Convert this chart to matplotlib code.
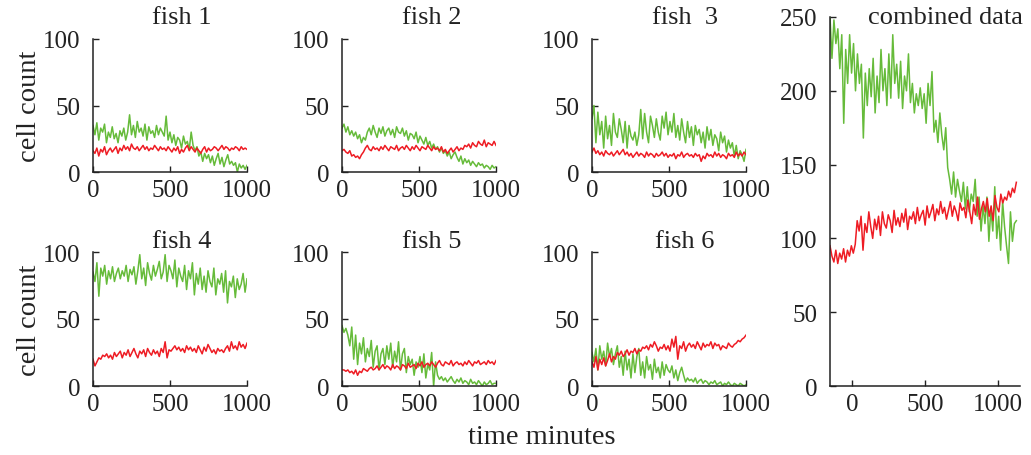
import numpy as np
import matplotlib
matplotlib.use("Agg")
import matplotlib.pyplot as plt

plt.rcParams['font.family'] = ['Liberation Serif', 'DejaVu Serif']

titles = ["fish 1", "fish 2", "fish  3", "fish 4", "fish 5", "fish 6"]

green = {
    "fish 1": [35,28,37,24,33,30,36,22,30,26,34,25,29,22,31,27,33,
               24,30,43,28,35,26,38,30,
               33,27,36,24,34,29,31,26,35,28,33,30,
               27,42,24,30,
               22,28,20,26,24,18,27,21,23,17,30,20,
               16,19,12,15,8,14,10,13,
               7,12,5,10,14,6,11,4,9,13,6,8,
               5,7,0,6,3,5,2,5],
    "fish 2": [33,36,30,34,28,31,27,30,25,28,22,26,24,30,33,28,35,
               30,26,33,29,34,27,31,
               33,28,32,26,34,30,29,33,27,31,24,29,
               28,25,30,22,
               27,24,21,26,20,23,18,21,17,19,15,18,
               14,16,12,15,10,13,15,11,
               8,12,6,10,7,9,5,8,6,4,7,5,
               6,3,5,4,2,5,3,4],
    "fish  3": [40,50,22,45,28,38,18,42,25,35,20,44,30,26,40,32,22,
                38,18,35,27,24,30,20,
                28,47,25,44,30,22,42,35,26,40,30,24,
                42,33,45,28,
                38,30,44,26,35,24,40,30,22,38,26,34,
                20,35,28,32,22,30,18,34,
                24,32,20,28,25,16,30,22,27,15,24,18,
                22,12,20,10,16,13,8,17],
    "fish 4": [85,78,92,67,88,82,90,76,86,80,89,78,84,88,80,86,82,
               90,78,87,83,89,76,86,
               98,80,88,75,92,84,79,90,82,87,93,80,
               85,98,78,90,
               86,80,94,74,88,82,78,90,72,86,80,92,
               68,84,76,88,72,82,70,86,
               78,74,88,68,80,76,84,70,86,62,78,74,
               82,66,80,72,76,84,70,80],
    "fish 5": [45,40,43,38,30,44,20,38,16,32,24,36,18,28,22,34,14,
               26,30,12,24,28,16,30,
               20,32,14,26,18,33,12,24,28,10,22,16,
               20,8,18,14,
               22,10,24,6,16,12,25,0,18,8,5,7,
               4,6,3,5,7,4,2,5,
               3,6,2,4,3,1,5,2,3,1,4,2,
               0,3,1,2,4,1,2,2],
    "fish 6": [25,18,28,12,30,20,26,15,32,22,28,16,24,30,14,22,8,
               26,12,20,6,24,10,22,
               28,8,18,6,22,12,16,5,20,10,14,6,
               18,8,16,12,
               10,15,6,12,4,10,14,8,3,6,4,5,
               3,6,2,4,5,2,4,3,
               1,3,2,4,1,2,3,0,2,1,3,1,
               0,2,1,0,2,1,0,1],
}

red = {
    "fish 1": [16,14,18,12,17,15,19,13,16,18,15,17,19,14,18,16,20,
               17,19,16,21,18,17,19,16,
               18,20,17,19,16,18,17,20,18,16,19,17,
               18,16,19,17,
               15,18,16,19,14,17,15,18,20,16,19,17,
               15,18,16,14,17,19,15,18,
               16,17,19,18,16,18,20,17,19,18,16,18,
               17,19,18,16,19,17,18,17],
    "fish 2": [16,17,15,14,16,12,13,11,12,10,13,15,18,20,17,16,19,
               17,18,16,19,17,20,18,
               16,19,18,17,20,16,18,19,17,20,18,16,
               19,17,20,18,
               16,19,18,17,20,18,16,19,17,18,16,19,
               15,17,14,16,18,15,17,19,
               16,18,17,20,19,21,18,22,20,19,23,21,
               20,24,19,22,21,20,23,20],
    "fish  3": [15,18,14,16,13,15,12,16,14,13,15,12,14,16,13,15,17,
                13,15,12,14,11,13,15,
                12,14,13,11,15,12,14,13,11,14,12,13,
                15,12,14,11,
                13,12,14,10,13,12,15,11,13,14,12,13,
                11,14,12,13,8,12,10,14,
                12,13,11,15,12,14,11,13,12,10,14,12,
                13,11,15,12,14,12,15,13],
    "fish 4": [20,15,18,21,20,23,22,24,21,23,20,25,22,24,26,21,25,
               23,27,22,25,28,24,21,
               26,24,27,22,28,25,23,27,24,26,22,28,
               25,33,21,27,
               26,28,30,27,29,26,28,25,30,27,29,26,
               28,25,30,27,24,29,26,31,
               28,25,27,24,28,26,27,25,28,30,26,33,
               28,30,27,33,29,31,28,32],
    "fish 5": [12,12,11,12,10,11,9,12,8,11,10,13,12,11,13,14,12,
               13,15,12,14,16,13,15,
               14,12,16,13,15,14,12,16,15,13,17,14,
               15,16,13,17,
               15,18,14,16,17,15,18,16,14,17,19,16,
               15,18,17,16,19,15,17,18,
               16,17,15,18,16,19,17,15,18,17,19,16,
               17,18,16,19,17,18,16,19],
    "fish 6": [18,14,22,12,20,16,21,15,19,24,18,22,20,25,23,26,22,
               24,27,23,26,25,28,24,
               27,26,29,28,30,27,31,29,33,30,26,29,
               28,31,27,30,
               26,35,29,37,20,30,28,33,26,30,32,29,
               31,28,33,30,27,32,29,31,
               30,33,28,32,30,31,27,30,29,28,32,30,
               29,31,32,34,33,35,36,38],
}

combined_green = [250,222,248,232,242,215,238,178,228,205,238,212,232,
                  200,225,205,218,168,212,190,215,196,222,185,
                  210,192,228,200,215,190,225,195,238,205,218,
                  195,220,188,210,200,225,192,205,185,198,190,
                  202,188,198,178,205,190,213,172,180,165,185,
                  170,160,175,148,140,130,145,128,140,132,125,
                  138,120,135,118,130,125,140,115,128,105,122,
                  110,128,98,120,105,135,100,115,92,125,108,
                  95,83,118,98,110,112]
combined_red = [95,88,84,92,83,90,86,93,84,92,88,95,90,
                96,112,105,115,92,110,104,118,108,100,113,106,
                115,102,118,110,107,116,112,104,119,109,114,
                108,117,111,120,106,115,113,118,110,121,112,
                116,119,109,122,114,118,123,112,120,116,125,
                117,121,113,119,125,115,122,118,112,124,119,
                121,114,126,118,110,123,116,128,113,120,125,
                118,127,115,122,112,129,121,118,130,124,128,
                126,132,128,134,131,138]

t_start, t_end = 0, 1000
c_start, c_end = -150, 1125

GREEN = '#66bb3a'
RED = '#ee1c24'
TXT = '#222222'
W, H = 1031, 456

fig = plt.figure(figsize=(W/100, H/100), dpi=100)

def px_axes(l, t, r, b):
    return fig.add_axes([l/W, 1 - b/H, (r-l)/W, (b-t)/H])

def style(ax):
    for s in ['top', 'right']:
        ax.spines[s].set_visible(False)
    for s in ['left', 'bottom']:
        ax.spines[s].set_linewidth(1.1)
        ax.spines[s].set_color(TXT)
    ax.tick_params(direction='in', length=4, width=1.0, labelsize=18,
                   colors=TXT)
    ax.tick_params(axis='y', pad=9)
    ax.tick_params(axis='x', pad=5)
    ax.set_facecolor('none')

lefts = [93, 342, 592]
tops = [40, 253]
bottoms = [173, 387]
title_cx = [182, 432, 685]
title_by = [24, 248]

for i, name in enumerate(titles):
    r, c = divmod(i, 3)
    ax = px_axes(lefts[c], tops[r], lefts[c] + 154, bottoms[r])
    g = green[name]
    rd = red[name]
    ax.plot(np.linspace(t_start, t_end, len(g)), g, color=GREEN, lw=1.1)
    ax.plot(np.linspace(t_start, t_end, len(rd)), rd, color=RED, lw=1.1)
    ax.set_xlim(0, 1000)
    ax.set_ylim(0, 100)
    ax.set_xticks([0, 500, 1000])
    ax.set_yticks([0, 50, 100])
    style(ax)
    fig.text(title_cx[c]/W, 1 - title_by[r]/H, name, ha='center',
             va='baseline', fontsize=19, color=TXT)

axc = px_axes(830, 18, 1020, 387)
axc.plot(np.linspace(c_start, c_end, len(combined_green)), combined_green,
         color=GREEN, lw=1.1)
axc.plot(np.linspace(c_start, c_end, len(combined_red)), combined_red,
         color=RED, lw=1.1)
axc.set_xlim(-150, 1150)
axc.set_ylim(0, 250)
axc.set_xticks([0, 500, 1000])
axc.set_yticks([0, 50, 100, 150, 200, 250])
style(axc)
fig.text(945/W, 1 - 24/H, "combined data", ha='center', va='baseline',
         fontsize=19, color=TXT)

fig.text(30/W, 1 - 106/H, "cell count", rotation=90, ha='center',
         va='center', fontsize=20.5, color=TXT)
fig.text(30/W, 1 - 320/H, "cell count", rotation=90, ha='center',
         va='center', fontsize=20.5, color=TXT)
fig.text(542/W, 1 - 438/H, "time minutes", ha='center', va='center',
         fontsize=20.5, color=TXT)

fig.savefig("out.png", dpi=100)
